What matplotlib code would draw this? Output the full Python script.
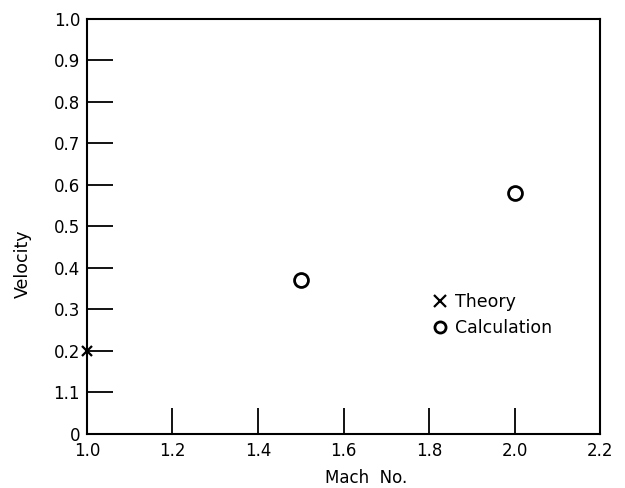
import matplotlib
matplotlib.use("Agg")
import matplotlib.pyplot as plt

# Data
theory_mach = [1.0]
theory_vel = [0.2]
calc_mach = [1.5, 2.0]
calc_vel = [0.37, 0.58]

xticks = [1.0, 1.2, 1.4, 1.6, 1.8, 2.0, 2.2]
xticklabels = ["1.0", "1.2", "1.4", "1.6", "1.8", "2.0", "2.2"]
yticks = [0.0, 0.1, 0.2, 0.3, 0.4, 0.5, 0.6, 0.7, 0.8, 0.9, 1.0]
yticklabels = ["0", "1.1", "0.2", "0.3", "0.4", "0.5", "0.6", "0.7", "0.8", "0.9", "1.0"]

plt.rcParams['font.family'] = ['DejaVu Sans']
fig = plt.figure(figsize=(6.25, 4.88), dpi=100)
ax = fig.add_axes([0.1392, 0.1107, 0.8208, 0.8504])

ax.plot(theory_mach, theory_vel, linestyle='none', marker='x', color='black',
        markersize=7, markeredgewidth=1.6, clip_on=False, zorder=5, label='Theory')
ax.plot(calc_mach, calc_vel, linestyle='none', marker='o', markerfacecolor='white',
        markeredgecolor='black', markersize=10, markeredgewidth=2.0, label='Calculation')

ax.set_xlim(1.0, 2.2)
ax.set_ylim(0.0, 1.0)
ax.set_xticks(xticks)
ax.set_xticklabels(xticklabels)
ax.set_yticks(yticks)
ax.set_yticklabels(yticklabels)
ax.tick_params(direction='in', length=19, width=1.3, labelsize=12, colors='black', pad=5)
ax.tick_params(axis='x', pad=6)
for s in ax.spines.values():
    s.set_linewidth(1.5)

ax.set_xlabel("Mach  No.", fontsize=12, va='center', ha='center')
ax.xaxis.set_label_coords(0.544, -0.106)
ax.set_ylabel("Velocity", fontsize=12.5, va='center', ha='center')
ax.yaxis.set_label_coords(-0.125, 0.41)

leg = ax.legend(loc='upper left', bbox_to_anchor=(0.654, 0.36), frameon=False,
                fontsize=12.5, handlelength=1.0, handletextpad=0.4, labelspacing=0.45,
                borderpad=0.0)
for h in leg.legend_handles:
    h.set_markersize(8)

fig.savefig("out.png", dpi=100)
